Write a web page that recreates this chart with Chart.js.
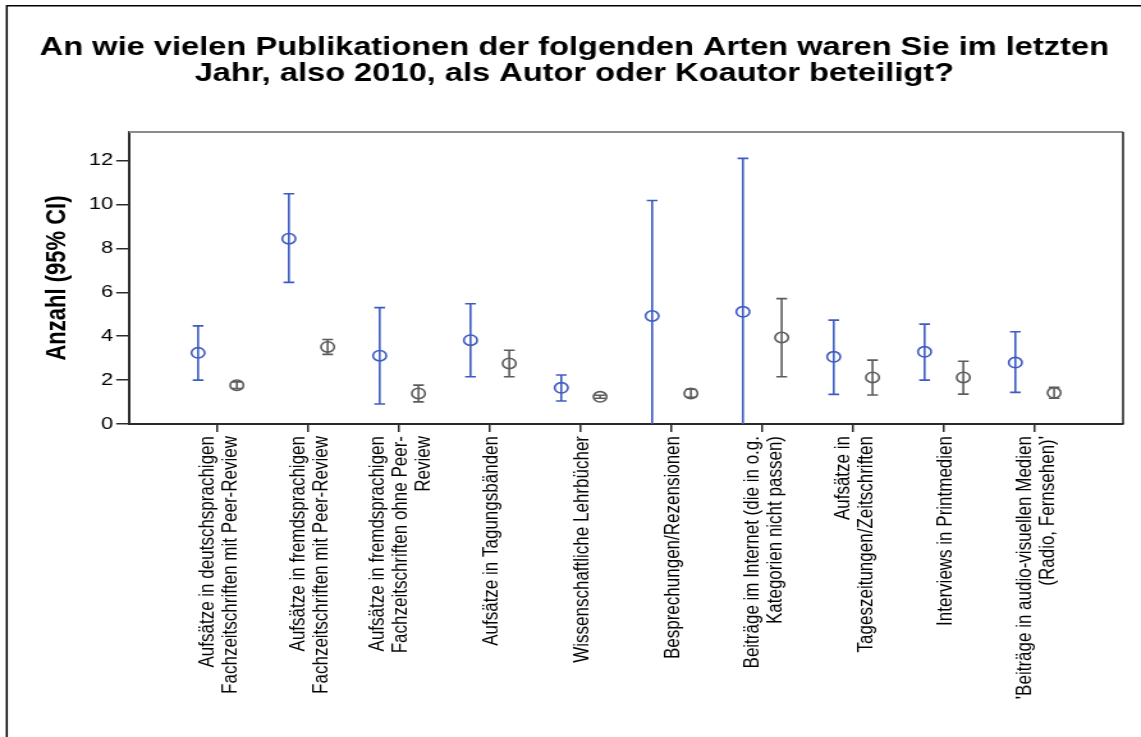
<!DOCTYPE html>
<html lang="de">
<head>
<meta charset="utf-8">
<title>Publikationen 2010</title>
<script src="https://cdn.jsdelivr.net/npm/chart.js@4/dist/chart.umd.min.js"></script>
<style>
  html, body { margin: 0; padding: 0; background: #fff; overflow: hidden; }
  #wrap { width: 1141px; height: 737px; overflow: hidden; background: #fff; }
  /* the chart is laid out narrow and widened horizontally */
  #chart { display: block; transform: scaleX(1.2791); transform-origin: 0 0; }
</style>
</head>
<body>
<div id="wrap"><canvas id="chart" width="892" height="737"></canvas></div>
<script>
// Publication types (each entry = the lines of one axis label)
const categories = [
  ['Aufsätze in deutschsprachigen', 'Fachzeitschriften mit Peer-Review'],
  ['Aufsätze in fremdsprachigen', 'Fachzeitschriften mit Peer-Review'],
  ['Aufsätze in fremdsprachigen', 'Fachzeitschriften ohne Peer-', 'Review'],
  ['Aufsätze in Tagungsbänden'],
  ['Wissenschaftliche Lehrbücher'],
  ['Besprechungen/Rezensionen'],
  ['Beiträge im Internet (die in o.g.', 'Kategorien nicht passen)'],
  ['Aufsätze in', 'Tageszeitungen/Zeitschriften'],
  ['Interviews in Printmedien'],
  ["'Beiträge in audio-visuellen Medien", "(Radio, Fernsehen)'"]
];

// Group 1: mean and 95% confidence interval
const meanA = [3.24, 8.44, 3.11, 3.82, 1.65, 4.92, 5.11, 3.06, 3.29, 2.80];
const lowA  = [2.00, 6.45, 0.91, 2.15, 1.05, -0.34, -1.88, 1.35, 2.00, 1.44];
const highA = [4.47, 10.49, 5.30, 5.48, 2.23, 10.18, 12.10, 4.73, 4.55, 4.20];

// Group 2: mean and 95% confidence interval
const meanB = [1.77, 3.51, 1.39, 2.76, 1.24, 1.39, 3.94, 2.12, 2.12, 1.42];
const lowB  = [1.62, 3.17, 1.01, 2.15, 1.17, 1.22, 2.15, 1.32, 1.36, 1.17];
const highB = [1.92, 3.85, 1.77, 3.36, 1.31, 1.58, 5.71, 2.91, 2.86, 1.67];

const yTicks = [0, 2, 4, 6, 8, 10, 12];

const titleLines = [
  'An wie vielen Publikationen der folgenden Arten waren Sie im letzten',
  'Jahr, also 2010, als Autor oder Koautor beteiligt?'
];
const yTitle = 'Anzahl (95% CI)';

// ---- styling ----
const FONT = 'Arial, "Liberation Sans", Helvetica, sans-serif';
const BLUE = '#3d5cc2';
const GREY = '#5c5c5c';
const AXIS = '#2b2b2b';
const OFF_A = -0.205;   // horizontal shift of group 1 within a category
const OFF_B = 0.222;    // horizontal shift of group 2 within a category
const X_MIN = -0.9655, X_MAX = 9.981;
const LABEL_FONT = { family: FONT, size: 17, lineHeight: 1.05 };
const LABEL_LINE_PX = LABEL_FONT.size * LABEL_FONT.lineHeight;
const LABEL_NUDGE_PX = 2;

function whiskerPoints(low, high, off) {
  const pts = [];
  low.forEach((lo, i) => {
    pts.push({ x: i + off, y: lo }, { x: i + off, y: high[i] }, { x: i + off, y: null });
  });
  return pts;
}
function capPoints(low, high, off) {
  const pts = [];
  low.forEach((lo, i) => { pts.push({ x: i + off, y: lo }, { x: i + off, y: high[i] }); });
  return pts;
}
function meanPoints(mean, off) {
  return mean.map((m, i) => ({ x: i + off, y: m }));
}

function groupDatasets(name, mean, low, high, off, color) {
  return [
    { label: name + ' KI', data: whiskerPoints(low, high, off), showLine: true, spanGaps: false,
      borderColor: color, borderWidth: 1.6, pointRadius: 0, pointHoverRadius: 0, clip: 0, order: 3 },
    { label: name + ' Grenzen', data: capPoints(low, high, off), showLine: false,
      pointStyle: 'line', pointRadius: 4.2, pointHoverRadius: 4.2,
      borderColor: color, pointBorderColor: color, pointBorderWidth: 1.6, borderWidth: 1.6, clip: 0, order: 2 },
    { label: name + ' Mittelwert', data: meanPoints(mean, off), showLine: false,
      pointStyle: 'circle', pointRadius: 5.2, pointHoverRadius: 5.2,
      borderColor: color, pointBorderColor: color, pointBorderWidth: 1.6, borderWidth: 1.6,
      backgroundColor: 'rgba(0,0,0,0)', pointBackgroundColor: 'rgba(0,0,0,0)', clip: 0, order: 1 }
  ];
}

// outer frame and plot frame
const framePlugin = {
  id: 'frames',
  beforeDraw(chart) {
    const ctx = chart.ctx;
    ctx.save();
    ctx.fillStyle = '#fff';
    ctx.fillRect(0, 0, chart.width, chart.height);
    ctx.strokeStyle = '#000';
    ctx.lineWidth = 1.5;
    ctx.beginPath();
    ctx.moveTo(5.3, chart.height + 2);
    ctx.lineTo(5.3, 5.8);
    ctx.lineTo(chart.width + 2, 5.8);
    ctx.stroke();
    ctx.restore();
  },
  afterDraw(chart) {
    const { ctx, chartArea: a } = chart;
    ctx.save();
    ctx.lineWidth = 2;
    ctx.strokeStyle = '#8c8c8c';
    ctx.beginPath();
    ctx.moveTo(a.left, a.top);
    ctx.lineTo(a.right, a.top);
    ctx.stroke();
    ctx.lineWidth = 1.6;
    ctx.strokeStyle = AXIS;
    ctx.beginPath();
    ctx.moveTo(a.right, a.top);
    ctx.lineTo(a.right, a.bottom);
    ctx.stroke();
    ctx.restore();
  }
};

new Chart(document.getElementById('chart'), {
  type: 'scatter',
  data: {
    datasets: [
      ...groupDatasets('Gruppe 1', meanA, lowA, highA, OFF_A, BLUE),
      ...groupDatasets('Gruppe 2', meanB, lowB, highB, OFF_B, GREY)
    ]
  },
  plugins: [framePlugin],
  options: {
    responsive: false,
    devicePixelRatio: 1,
    animation: false,
    events: [],
    layout: { padding: { top: 0, left: 20, right: 14, bottom: 5 } },
    plugins: {
      legend: { display: false },
      tooltip: { enabled: false },
      title: {
        display: true,
        text: titleLines,
        color: '#000',
        font: { family: FONT, size: 25.5, weight: 'bold', lineHeight: 1.03 },
        padding: { top: 35, bottom: 44.5 }
      }
    },
    scales: {
      x: {
        type: 'linear', position: 'bottom', min: X_MIN, max: X_MAX, weight: 0,
        afterBuildTicks: s => { s.ticks = categories.map((_, i) => ({ value: i })); },
        afterFit: s => { s.height = 8; },
        grid: { drawOnChartArea: false, drawTicks: true, tickLength: 8, color: AXIS, lineWidth: 1.5 },
        border: { display: true, color: AXIS, width: 2 },
        ticks: { display: false }
      },
      xl: {
        type: 'linear', position: 'bottom', min: X_MIN, max: X_MAX, weight: 1,
        afterBuildTicks: s => {
          const pxPerUnit = s.width / (s.max - s.min);
          s.ticks = categories.map((lines, i) => ({
            value: i + (-(lines.length - 1) * LABEL_LINE_PX / 2 + LABEL_NUDGE_PX) / pxPerUnit
          }));
        },
        afterFit: s => { s.height = 737 - 424 - 8 - 5; },
        grid: { display: false, drawTicks: false, drawOnChartArea: false },
        border: { display: false },
        ticks: {
          autoSkip: false, minRotation: 90, maxRotation: 90, padding: 4,
          color: '#000', font: LABEL_FONT,
          callback: (v, i) => categories[i]
        }
      },
      y: {
        type: 'linear', min: 0, max: 13.3,
        afterBuildTicks: s => { s.ticks = yTicks.map(v => ({ value: v })); },
        afterFit: s => { s.width = 80.85; },
        grid: { drawOnChartArea: false, drawTicks: true, tickLength: 10, color: AXIS, lineWidth: 1.5 },
        border: { display: true, color: AXIS, width: 2 },
        ticks: { padding: 2.5, color: '#000', font: { family: FONT, size: 17 } },
        title: {
          display: true, text: yTitle, color: '#000',
          font: { family: FONT, size: 22, weight: 'bold', lineHeight: 1.2 },
          padding: { top: 12.1, bottom: 0 }
        }
      }
    }
  }
});
</script>
</body>
</html>
